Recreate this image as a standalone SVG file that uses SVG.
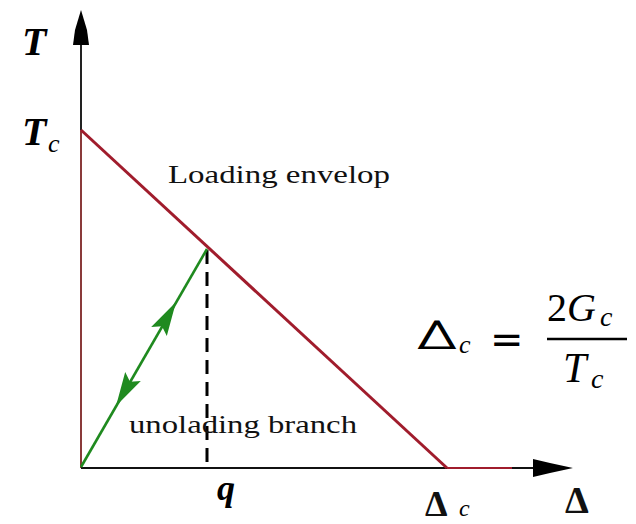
<svg xmlns="http://www.w3.org/2000/svg" width="636" height="524" viewBox="0 0 636 524">
<style>
.serif{font-family:"Liberation Serif","DejaVu Serif",serif;fill:#111}
.it{font-family:"Liberation Serif","DejaVu Serif",serif;font-style:italic;font-weight:bold;fill:#000}
.cm{font-family:"Liberation Serif","DejaVu Serif",serif;fill:#000}
.cmi{font-family:"Liberation Serif","DejaVu Serif",serif;font-style:italic;fill:#000}
.red{stroke:#a01c2c;stroke-width:3;fill:none}
.green{stroke:#1f8a1f;stroke-width:2.6;fill:none}
</style>
<rect width="636" height="524" fill="#fff"/>
<g id="axes">
  <line x1="81" y1="40" x2="81" y2="130" stroke="#222" stroke-width="2"/>
  <line x1="81" y1="130" x2="81" y2="468" stroke="#8a3a3a" stroke-width="2"/>
  <polygon points="81,10 75,30 73,45 89,45 87,30" fill="#000"/>
  <line x1="81" y1="468" x2="447" y2="468" stroke="#111" stroke-width="2"/>
  <line x1="447" y1="468" x2="512" y2="468" stroke="#a01c2c" stroke-width="2"/>
  <line x1="512" y1="468" x2="540" y2="468" stroke="#111" stroke-width="2"/>
  <polygon points="573,468 550,463 533,459 533,477 550,473" fill="#000"/>
</g>
<g id="connectors">
  <line id="loading-envelop" class="red" x1="81" y1="130" x2="447" y2="468"/>
  <line id="dashed-q" x1="207" y1="250" x2="207" y2="468" stroke="#000" stroke-width="3" stroke-dasharray="14,8"/>
  <line id="unloading" class="green" x1="81" y1="467" x2="207" y2="249"/>
  <polygon points="176,302 166.8,335.9 162,326.2 151.2,326.9" fill="#1f8a1f"/>
  <polygon points="116,406 125.2,372.1 130,381.8 140.8,381.1" fill="#1f8a1f"/>
</g>
<g id="labels">
  <text class="it" x="22" y="55" font-size="40">T</text>
  <text class="it" x="22" y="145" font-size="40">T</text>
  <text class="cmi" x="48" y="152" font-size="26">c</text>
  <text class="serif" x="168" y="183" font-size="26" textLength="222" lengthAdjust="spacingAndGlyphs">Loading envelop</text>
  <text class="serif" x="129" y="433" font-size="25" textLength="228" lengthAdjust="spacingAndGlyphs">unolading branch</text>
  <text class="it" x="217" y="500" font-size="36">q</text>
  <text class="serif" x="425" y="516" font-size="36" font-weight="bold">Δ</text>
  <text class="cmi" x="459" y="516" font-size="24">c</text>
  <text class="serif" x="565" y="513" font-size="38" font-weight="bold">Δ</text>
</g>
<g id="formula">
  <text x="417" y="348" font-size="38" font-family="DejaVu Sans, sans-serif" font-weight="200" stroke="#000" stroke-width="1" textLength="40" lengthAdjust="spacingAndGlyphs">Δ</text>
  <text class="cmi" x="459" y="353" font-size="26">c</text>
  <text x="490" y="353" font-size="40" font-family="DejaVu Sans, sans-serif">=</text>
  <text class="cm" x="547" y="321" font-size="40">2<tspan font-style="italic">G</tspan></text>
  <text class="cmi" x="600" y="326" font-size="28">c</text>
  <line x1="547" y1="339" x2="627" y2="339" stroke="#000" stroke-width="2.4"/>
  <text class="cmi" x="563" y="382" font-size="42">T</text>
  <text class="cmi" x="591" y="388" font-size="28">c</text>
</g>
</svg>
